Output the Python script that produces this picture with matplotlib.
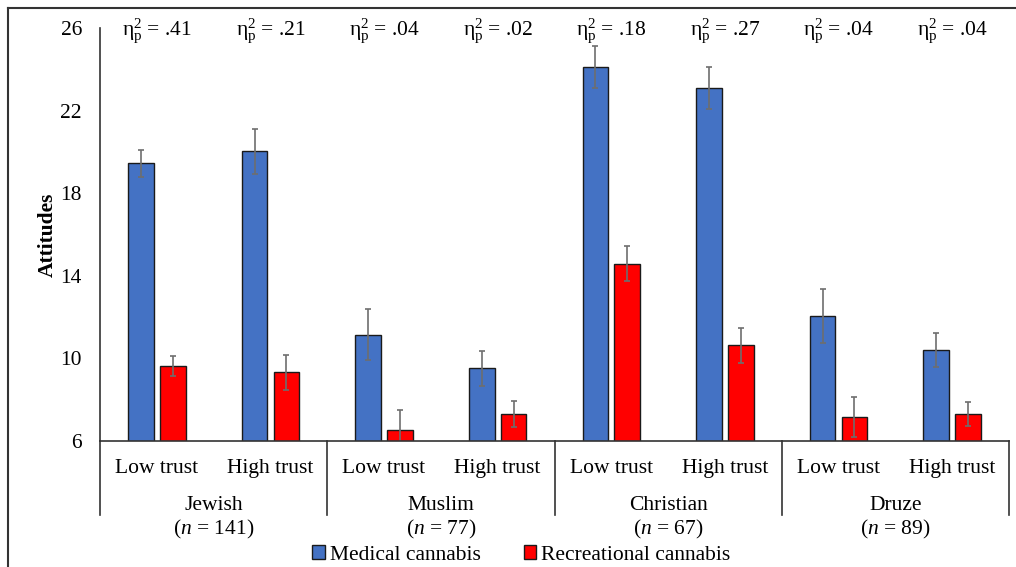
import matplotlib.pyplot as plt
import matplotlib.transforms as mtransforms
from matplotlib.lines import Line2D
from matplotlib.patches import Patch
import numpy as np

plt.rcParams['font.family'] = ['Liberation Serif', 'DejaVu Serif']
plt.rcParams['mathtext.fontset'] = 'custom'
plt.rcParams['mathtext.rm'] = 'Liberation Serif'
plt.rcParams['mathtext.it'] = 'Liberation Serif:italic'

# data
groups = ['Jewish', 'Muslim', 'Christian', 'Druze']
group_n = [141, 77, 67, 89]
trust = ['Low trust', 'High trust']
medical = [19.45, 20.02, 11.15, 9.52, 24.11, 23.09, 12.04, 10.41]
medical_err = [0.65, 1.1, 1.25, 0.85, 1.03, 1.02, 1.31, 0.81]
recreational = [9.64, 9.33, 6.53, 7.31, 14.59, 10.63, 7.18, 7.31]
recreational_err = [0.48, 0.84, 0.97, 0.65, 0.86, 0.86, 0.97, 0.57]
eta_labels = ['.41', '.21', '.04', '.02', '.18', '.27', '.04', '.04']

blue = '#4472C4'
red = '#FF0000'
err_col = '#6e6e6e'
fs = 15.5

fig = plt.figure(figsize=(10.16, 5.67), dpi=100)
ax = fig.add_axes([100 / 1016, 1 - 441 / 567, 909 / 1016, 413 / 567])

x = np.arange(len(medical))
w = 0.225
ekw = dict(ecolor=err_col, elinewidth=1.2, capsize=2.5, capthick=1.2)
ax.bar(x - 0.14, medical, w, color=blue, edgecolor='#1a1a1a', linewidth=1,
       yerr=medical_err, error_kw=ekw, label='Medical cannabis')
ax.bar(x + 0.14, recreational, w, color=red, edgecolor='#1a1a1a', linewidth=1,
       yerr=recreational_err, error_kw=ekw, label='Recreational cannabis')

ax.set_xlim(-0.5, len(medical) - 0.5)
ax.set_ylim(6, 26)
ax.set_yticks([6, 10, 14, 18, 22, 26])
ax.tick_params(axis='y', length=0, pad=13, labelsize=fs)
ax.set_xticks(x)
ax.set_xticklabels(trust * len(groups), fontsize=fs)
ax.tick_params(axis='x', length=0, pad=13)
ax.set_ylabel('Attitudes', fontsize=fs, fontweight='bold', labelpad=2)

for s in ['top', 'right']:
    ax.spines[s].set_visible(False)
for s in ['left', 'bottom']:
    ax.spines[s].set_color('#333333')
    ax.spines[s].set_linewidth(1.2)

# group separators and labels below the axis
trans = mtransforms.blended_transform_factory(ax.transData, ax.transAxes)
for b in np.arange(-0.5, len(medical), 2):
    ax.add_line(Line2D([b, b], [0, -74 / 413], transform=trans, color='#333333',
                       lw=1.2, clip_on=False))
for i, g in enumerate(groups):
    cx = 2 * i + 0.5
    ax.text(cx, -65 / 413, g, transform=trans, ha='center', va='center', fontsize=fs)
    ax.text(cx, -88 / 413, '($\\mathit{n}$ = %d)' % group_n[i], transform=trans,
            ha='center', va='center', fontsize=fs)

# partial eta squared labels
for i, e in enumerate(eta_labels):
    ax.text(i, 25.85, 'η$^{2}_{\\mathrm{p}}$ = ' + e, ha='center', va='center',
            fontsize=fs, clip_on=False)

handles = [Patch(facecolor=blue, edgecolor='#1a1a1a'), Patch(facecolor=red, edgecolor='#1a1a1a')]
fig.legend(handles, ['Medical cannabis', 'Recreational cannabis'], loc='center',
           bbox_to_anchor=(0.513, 1 - 555 / 567), ncol=2, frameon=False, fontsize=fs,
           handlelength=0.6, handleheight=0.6, handletextpad=0.2, columnspacing=2.0)

# outer frame (only left/top visible in the crop)
fig.add_artist(Line2D([8 / 1016, 8 / 1016], [0, 1 - 8 / 567], transform=fig.transFigure,
                      color='#333333', lw=1.5))
fig.add_artist(Line2D([8 / 1016, 1], [1 - 8 / 567, 1 - 8 / 567], transform=fig.transFigure,
                      color='#333333', lw=1.5))

fig.savefig('out.png', dpi=100)
